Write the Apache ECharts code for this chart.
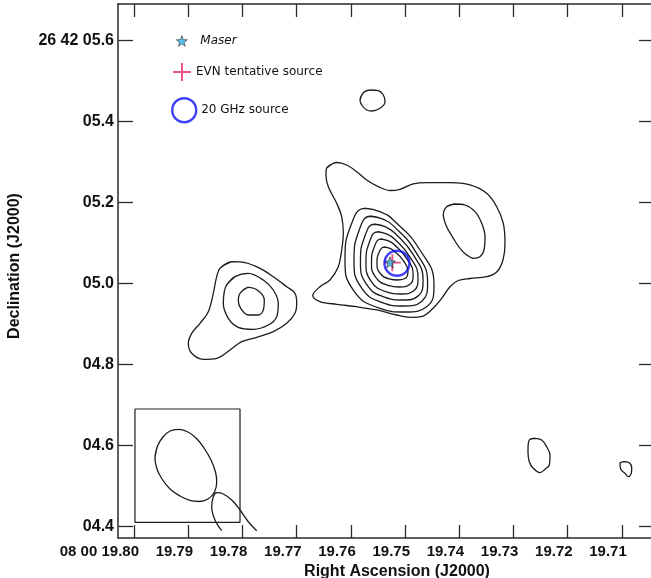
<!DOCTYPE html>
<html><head><meta charset="utf-8">
<script src="https://cdn.jsdelivr.net/npm/echarts@6/dist/echarts.min.js"></script>
<style>html,body{margin:0;padding:0;background:#fff}#c{width:651px;height:578px}</style>
</head><body><div id="c"></div>
<script>
// ---- axes ----
const raTicks = [19.80, 19.79, 19.78, 19.77, 19.76, 19.75, 19.74, 19.73, 19.72, 19.71];
const raTickLabels = ['08 00 19.80', '19.79', '19.78', '19.77', '19.76', '19.75', '19.74', '19.73', '19.72', '19.71'];
const decTicks = [4.4, 4.6, 4.8, 5.0, 5.2, 5.4, 5.6];
const decTickLabels = ['04.4', '04.6', '04.8', '05.0', '05.2', '05.4', '26 42 05.6'];
const raRange = [19.70406, 19.80295];
const decRange = [4.3721, 5.6906];

// ---- contours (RA s, Dec arcsec) ----
const contourMainOuter = [[19.76445,5.2857],[19.76260,5.2993],[19.76076,5.2931],[19.75891,5.2765],[19.75707,5.2560],[19.75493,5.2395],[19.75277,5.2301],[19.75092,5.2331],[19.74847,5.2462],[19.74600,5.2494],[19.74170,5.2494],[19.73801,5.2437],[19.73493,5.2232],[19.73308,5.1901],[19.73186,5.1491],[19.73155,5.0998],[19.73192,5.0585],[19.73303,5.0296],[19.73493,5.0173],[19.73801,5.0128],[19.74017,5.0079],[19.74170,4.9926],[19.74323,4.9640],[19.74478,4.9400],[19.74662,4.9202],[19.74908,4.9170],[19.75153,4.9227],[19.75522,4.9351],[19.75891,4.9432],[19.76260,4.9491],[19.76568,4.9560],[19.76703,4.9709],[19.76568,4.9926],[19.76384,5.0091],[19.76231,5.0420],[19.76168,5.0832],[19.76138,5.1244],[19.76168,5.1654],[19.76260,5.1985],[19.76415,5.2395],[19.76458,5.2684]];
const contourEastLobe = [[19.74231,5.1901],[19.74077,5.1968],[19.73893,5.1943],[19.73708,5.1778],[19.73585,5.1491],[19.73524,5.1160],[19.73542,5.0832],[19.73616,5.0667],[19.73740,5.0627],[19.73862,5.0709],[19.73985,5.0874],[19.74109,5.1121],[19.74231,5.1407],[19.74293,5.1696]];
const contourCore2 = [[19.75738,5.1862],[19.75461,5.1778],[19.75216,5.1573],[19.74724,5.0832],[19.74465,4.9968],[19.74600,4.9432],[19.74999,4.9301],[19.75461,4.9392],[19.75954,4.9844],[19.76107,5.0585],[19.75983,5.1492]];
const contourCore3 = [[19.75636,5.1665],[19.75407,5.1593],[19.75204,5.1415],[19.74797,5.0774],[19.74583,5.0026],[19.74694,4.9563],[19.75024,4.9449],[19.75407,4.9528],[19.75814,4.9919],[19.75941,5.0561],[19.75839,5.1345]];
const contourCore4 = [[19.75562,5.1468],[19.75367,5.1407],[19.75195,5.1257],[19.74848,5.0716],[19.74667,5.0084],[19.74761,4.9693],[19.75042,4.9598],[19.75367,4.9664],[19.75714,4.9994],[19.75822,5.0536],[19.75734,5.1198]];
const contourCore5 = [[19.75504,5.1282],[19.75342,5.1232],[19.75199,5.1108],[19.74911,5.0664],[19.74760,5.0145],[19.74839,4.9824],[19.75072,4.9746],[19.75342,4.9800],[19.75630,5.0072],[19.75720,5.0516],[19.75647,5.1060]];
const contourCore6 = [[19.75446,5.1100],[19.75316,5.1062],[19.75201,5.0967],[19.74971,5.0625],[19.74850,5.0226],[19.74913,4.9979],[19.75100,4.9919],[19.75316,4.9961],[19.75546,5.0169],[19.75618,5.0511],[19.75560,5.0930]];
const contourCore7 = [[19.75389,5.0904],[19.75292,5.0877],[19.75207,5.0812],[19.75035,5.0577],[19.74945,5.0303],[19.74992,5.0133],[19.75131,5.0091],[19.75292,5.0120],[19.75464,5.0264],[19.75517,5.0499],[19.75474,5.0786]];
const contourWest1 = [[19.78413,5.0380],[19.78197,5.0543],[19.77952,5.0519],[19.77675,5.0380],[19.77430,5.0173],[19.77183,4.9926],[19.77030,4.9763],[19.76998,4.9516],[19.77030,4.9269],[19.77183,4.9022],[19.77430,4.8815],[19.77736,4.8677],[19.78013,4.8568],[19.78229,4.8363],[19.78474,4.8158],[19.78721,4.8133],[19.78935,4.8281],[19.78998,4.8528],[19.78935,4.8775],[19.78782,4.9022],[19.78629,4.9309],[19.78537,4.9763],[19.78474,5.0173]];
const contourWest2 = [[19.78290,4.9968],[19.78137,5.0173],[19.77891,5.0257],[19.77614,5.0091],[19.77430,4.9844],[19.77338,4.9516],[19.77367,4.9185],[19.77522,4.8980],[19.77799,4.8874],[19.78076,4.8923],[19.78260,4.9146],[19.78352,4.9516],[19.78334,4.9802]];
const contourWest3 = [[19.78044,4.9763],[19.77891,4.9911],[19.77707,4.9827],[19.77596,4.9598],[19.77614,4.9351],[19.77707,4.9227],[19.77891,4.9227],[19.78031,4.9393],[19.78076,4.9598]];
const contourNorth = [[19.75830,5.4536],[19.75769,5.4716],[19.75646,5.4783],[19.75493,5.4765],[19.75400,5.4659],[19.75369,5.4494],[19.75461,5.4331],[19.75614,5.4264],[19.75707,5.4289],[19.75799,5.4412]];
const contourSE1 = [[19.72694,4.6158],[19.72601,4.6183],[19.72478,4.6141],[19.72386,4.5975],[19.72325,4.5770],[19.72338,4.5523],[19.72417,4.5417],[19.72509,4.5333],[19.72633,4.5442],[19.72707,4.5605],[19.72731,4.5852],[19.72725,4.6059]];
const contourSE2 = [[19.71033,4.5565],[19.70972,4.5605],[19.70862,4.5580],[19.70817,4.5442],[19.70830,4.5301],[19.70880,4.5235],[19.70941,4.5319],[19.71020,4.5417]];
const contourSouthTail = [[19.78382,4.3901],[19.78506,4.4165],[19.78566,4.4494],[19.78537,4.4741],[19.78474,4.4840],[19.78352,4.4807],[19.78197,4.4659],[19.78044,4.4412],[19.77891,4.4123],[19.77736,4.3901]];
const beamEllipse = [[19.79613,4.5696],[19.79566,4.5993],[19.79465,4.6215],[19.79336,4.6363],[19.79183,4.6405],[19.79022,4.6351],[19.78856,4.6190],[19.78708,4.5943],[19.78579,4.5647],[19.78496,4.5351],[19.78474,4.5104],[19.78515,4.4857],[19.78635,4.4684],[19.78801,4.4622],[19.78967,4.4647],[19.79151,4.4758],[19.79336,4.4931],[19.79483,4.5178],[19.79576,4.5425]];
const beamBox = [[19.79982,4.6906],[19.78044,4.6906],[19.78044,4.4109],[19.79982,4.4109]];

// ---- markers ----
const maser = [19.75277, 5.0528];
const evnSource = [19.75234, 5.0519];
const source20GHz = [19.75148, 5.0504];

const outerContours = [contourMainOuter, contourEastLobe, contourWest1, contourWest2, contourWest3, contourNorth, contourSE1, contourSE2];
const coreContours = [contourCore2, contourCore3, contourCore4, contourCore5, contourCore6, contourCore7];

const STAR = 'path://M0,-10 L2.35,-3.24 L9.51,-3.09 L3.8,1.24 L5.88,8.09 L0,4 L-5.88,8.09 L-3.8,1.24 L-9.51,-3.09 L-2.35,-3.24 Z';
const CROSS = 'path://M-1,-9 H1 V-1 H9 V1 H1 V9 H-1 V1 H-9 V-1 H-1 Z';
const FONT = '"Liberation Sans", Arial, Helvetica, sans-serif';
const FRAME = '#2a2a2a';
const BLUE = '#1010f5';
const PINK = '#e3286a';

function close(pts) { return pts.concat([pts[0], pts[1]]); }
function lineSeries(pts, smooth, w) {
  return { type: 'line', data: pts, showSymbol: false, symbol: 'none', smooth: smooth, silent: true,
    lineStyle: { color: '#1c1c1c', width: w || 1.3 }, z: 2, animation: false };
}
function lookup(ticks, labels, v) {
  for (let i = 0; i < ticks.length; i++) if (Math.abs(ticks[i] - v) < 1e-6) return labels[i];
  return '';
}

const series = [];
outerContours.forEach(c => series.push(lineSeries(close(c), 0.35)));
coreContours.forEach(c => series.push(lineSeries(close(c), 0.5)));
series.push(lineSeries(contourSouthTail, 0.35));
series.push(lineSeries(close(beamEllipse), 0.4));
series.push(lineSeries(beamBox.concat([beamBox[0]]), false, 1.2));
series.push({ name: 'EVN tentative source', type: 'scatter', data: [evnSource], symbol: CROSS, symbolSize: 17,
  itemStyle: { color: PINK }, z: 4, silent: true, animation: false });
series.push({ name: 'Maser', type: 'scatter', data: [maser], symbol: STAR, symbolSize: 11,
  itemStyle: { color: '#2fb6e6', borderColor: '#111', borderWidth: 0.7 }, z: 5, silent: true, animation: false });
series.push({ name: '20 GHz source', type: 'scatter', data: [source20GHz], symbol: 'circle', symbolSize: 25,
  itemStyle: { color: 'rgba(0,0,0,0)', borderColor: BLUE, borderWidth: 2.4 }, z: 6, silent: true, animation: false });

const legendText = { fontFamily: '"DejaVu Sans", sans-serif', fontSize: 12, color: '#111' };
const option = {
  animation: false,
  backgroundColor: '#fff',
  grid: { left: 118, top: 4, width: 536, height: 534, containLabel: false, outerBoundsMode: 'none', show: false },
  legend: [
    { data: [{ name: 'Maser', icon: STAR }], left: 176, top: 35, orient: 'vertical', padding: 0, itemWidth: 11, itemHeight: 11,
      selectedMode: false, itemStyle: { color: '#2fb6e6', borderColor: '#111', borderWidth: 0.7 },
      textStyle: Object.assign({}, legendText, { fontStyle: 'italic', padding: [0, 0, 10, 8] }) },
    { data: [{ name: 'EVN tentative source', icon: CROSS }], left: 173, top: 63, orient: 'vertical', padding: 0, itemWidth: 18, itemHeight: 18,
      selectedMode: false, itemStyle: { color: PINK, borderWidth: 0 },
      textStyle: Object.assign({}, legendText, { padding: [0, 0, 12, 0] }) },
    { data: [{ name: '20 GHz source', icon: 'circle' }], left: 171, top: 97, orient: 'vertical', padding: 0, itemWidth: 24, itemHeight: 24,
      selectedMode: false, itemStyle: { color: 'rgba(0,0,0,0)', borderColor: BLUE, borderWidth: 2.4 },
      textStyle: Object.assign({}, legendText, { padding: [0, 0, 6, 0] }) }
  ],
  xAxis: [
    { type: 'value', min: raRange[0], max: raRange[1], inverse: true, position: 'bottom',
      name: 'Right Ascension (J2000)', nameLocation: 'middle', nameGap: 19,
      nameTextStyle: { fontFamily: FONT, fontSize: 16, fontWeight: 'bold', color: '#111', padding: [0, 0, 0, 22] },
      axisLine: { show: true, onZero: false, lineStyle: { color: FRAME, width: 1.5 } },
      axisTick: { show: true, inside: true, length: 13, customValues: raTicks, lineStyle: { color: FRAME, width: 1.3 } },
      axisLabel: { show: true, customValues: raTicks, margin: 6, align: 'right', padding: [0, -5, 0, 0],
        fontFamily: FONT, fontSize: 15, fontWeight: 'bold', color: '#111',
        formatter: v => lookup(raTicks, raTickLabels, v) },
      splitLine: { show: false } },
    { type: 'value', min: raRange[0], max: raRange[1], inverse: true, position: 'top',
      axisLine: { show: true, onZero: false, lineStyle: { color: FRAME, width: 1.5 } },
      axisTick: { show: true, inside: true, length: 13, customValues: raTicks, lineStyle: { color: FRAME, width: 1.3 } },
      axisLabel: { show: false }, splitLine: { show: false } }
  ],
  yAxis: [
    { type: 'value', min: decRange[0], max: decRange[1], position: 'left',
      name: 'Declination (J2000)', nameLocation: 'middle', nameGap: 95,
      nameTextStyle: { fontFamily: FONT, fontSize: 16, fontWeight: 'bold', color: '#111', padding: [0, 0, 0, 10] },
      axisLine: { show: true, onZero: false, lineStyle: { color: FRAME, width: 1.5 } },
      axisTick: { show: true, inside: true, length: 15, customValues: decTicks, lineStyle: { color: FRAME, width: 1.3 } },
      axisLabel: { show: true, customValues: decTicks, margin: 4,
        fontFamily: FONT, fontSize: 16, fontWeight: 'bold', color: '#111',
        formatter: v => lookup(decTicks, decTickLabels, v) },
      splitLine: { show: false } },
    { type: 'value', min: decRange[0], max: decRange[1], position: 'right',
      axisLine: { show: true, onZero: false, lineStyle: { color: FRAME, width: 1.5 } },
      axisTick: { show: true, inside: true, length: 15, customValues: decTicks, lineStyle: { color: FRAME, width: 1.3 } },
      axisLabel: { show: false }, splitLine: { show: false } }
  ],
  series: series
};
const chart = echarts.init(document.getElementById('c'), null, { renderer: 'canvas' });
chart.setOption(option);
</script>
</body></html>
